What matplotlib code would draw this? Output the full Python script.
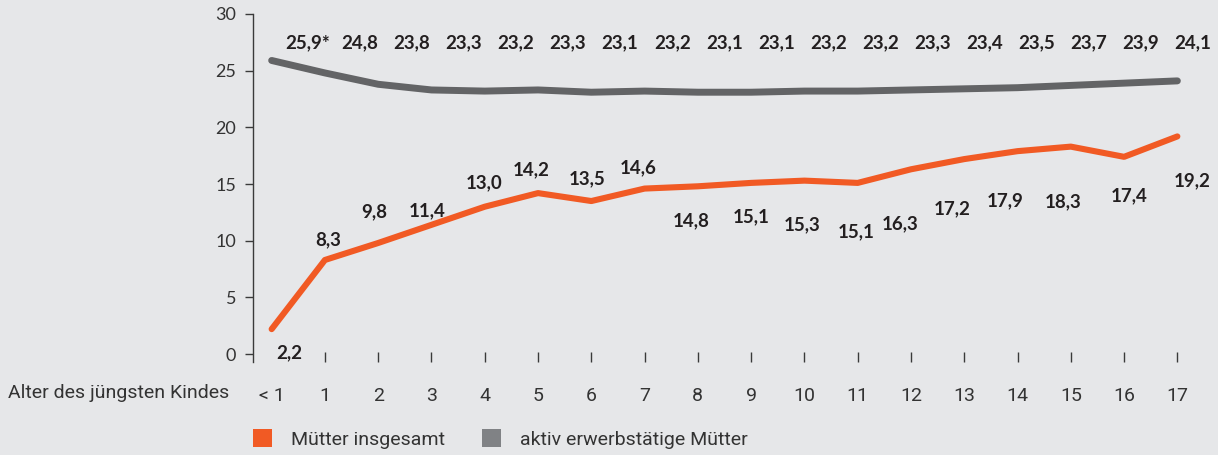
import matplotlib
matplotlib.use("Agg")
import matplotlib.pyplot as plt
from matplotlib.patches import Patch

# data
ages = ["< 1", "1", "2", "3", "4", "5", "6", "7", "8", "9", "10",
        "11", "12", "13", "14", "15", "16", "17"]
muetter_insgesamt = [2.2, 8.3, 9.8, 11.4, 13.0, 14.2, 13.5, 14.6, 14.8, 15.1,
                     15.3, 15.1, 16.3, 17.2, 17.9, 18.3, 17.4, 19.2]
aktiv_erwerbstaetig = [25.9, 24.8, 23.8, 23.3, 23.2, 23.3, 23.1, 23.2, 23.1, 23.1,
                       23.2, 23.2, 23.3, 23.4, 23.5, 23.7, 23.9, 24.1]
grey_notes = ["*"] + [""] * 17

orange = "#f15a24"
grey = "#636466"
grey_legend = "#808285"
bg = "#e6e7e9"
txt = "#231f20"

narrow = ["Roboto", "DejaVu Sans"]

# label offsets in pixels (dx, dy), positive dy = up
orange_off = [(18, -24), (3, 20), (-4, 31), (-4, 14), (-1, 24), (-7, 23), (-4, 22),
              (-6, 21), (-7, -34), (0, -34), (-2, -44), (-2, -49), (-11, -54),
              (-12, -50), (-12, -50), (-8, -55), (5, -39), (15, -44)]

fig = plt.figure(figsize=(12.18, 4.55), dpi=100, facecolor=bg)
ax = fig.add_axes([253 / 1218, 1 - 362 / 455, (1204 - 253) / 1218, (362 - 14) / 455])
ax.set_facecolor(bg)

x = list(range(len(ages)))
ax.plot(x, aktiv_erwerbstaetig, color=grey, lw=5.0, solid_capstyle="round",
        solid_joinstyle="round", zorder=3)
ax.plot(x, muetter_insgesamt, color=orange, lw=4.4, solid_capstyle="round",
        solid_joinstyle="round", zorder=3)

ax.set_xlim(-0.35, 17.5)
ax.set_ylim(-0.7, 30)

# grey labels sit in a row above the chart
for i, v in enumerate(aktiv_erwerbstaetig):
    s = f"{v:.1f}".replace(".", ",") + grey_notes[i]
    ax.annotate(s, (i, 30), xytext=(36 - 1.2 * i, -29), textcoords="offset pixels",
                ha="center", va="center", fontsize=13.5, family="Lato",
                fontweight="bold", color=txt)

for i, v in enumerate(muetter_insgesamt):
    s = f"{v:.1f}".replace(".", ",")
    dx, dy = orange_off[i]
    ax.annotate(s, (i, v), xytext=(dx, dy), textcoords="offset pixels",
                ha="center", va="center", fontsize=13.5, family="Lato",
                fontweight="bold", color=txt)

for sp in ["top", "right", "bottom"]:
    ax.spines[sp].set_visible(False)
ax.spines["left"].set_color("#3a3a3a")
ax.spines["left"].set_linewidth(1.0)

ax.set_yticks([0, 5, 10, 15, 20, 25, 30])
ax.tick_params(axis="y", direction="out", length=6, width=1.0, color="#3a3a3a",
               labelsize=13, labelcolor="#333333", pad=6)
for lab in ax.get_yticklabels():
    lab.set_family("Lato")

ax.set_xticks(x)
ax.set_xticklabels(ages)
ax.tick_params(axis="x", direction="in", length=7, width=1.0, color="#3a3a3a",
               labelsize=14, labelcolor="#333333", pad=18)
for lab in ax.get_xticklabels():
    lab.set_family(narrow)
ax.get_xticklines()[0].set_visible(False)

fig.text(8 / 1218, 1 - 393 / 455, "Alter des jüngsten Kindes", ha="left",
         va="center", fontsize=14, family=narrow, color="#333333")

handles = [Patch(facecolor=orange, edgecolor="none"),
           Patch(facecolor=grey_legend, edgecolor="none")]
leg = fig.legend(handles, ["Mütter insgesamt", "aktiv erwerbstätige Mütter"],
                 loc="center left", bbox_to_anchor=(253 / 1218, 1 - 439 / 455),
                 ncol=2, frameon=False, handlelength=1.0, handleheight=1.0,
                 handletextpad=0.95, columnspacing=1.9, borderpad=0, borderaxespad=0,
                 prop={"family": narrow, "size": 14})
for t in leg.get_texts():
    t.set_color("#333333")

fig.savefig("out.png", dpi=100, facecolor=bg)
